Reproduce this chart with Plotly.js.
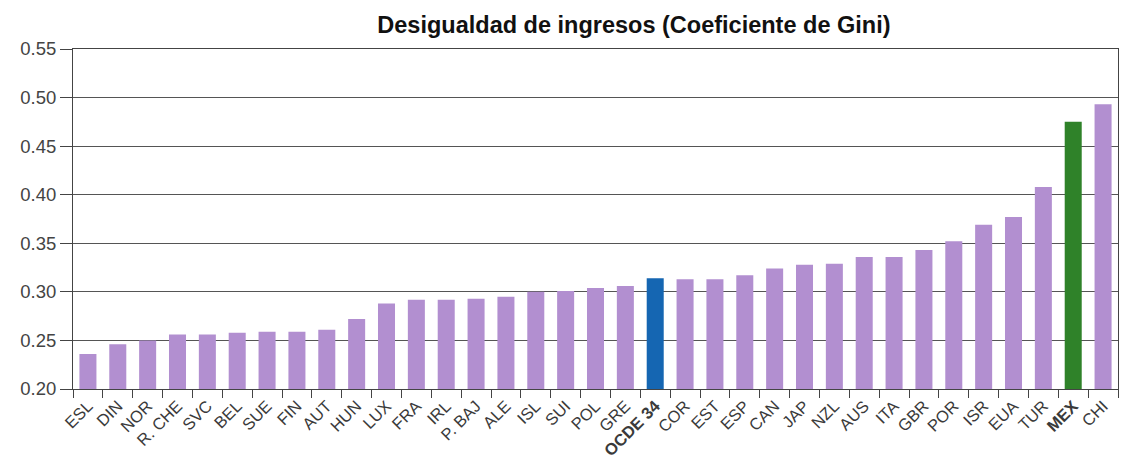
<!DOCTYPE html>
<html>
<head>
<meta charset="utf-8">
<script src="https://cdn.plot.ly/plotly-3.0.1.min.js"></script>
<style>html,body{margin:0;padding:0;background:#fff;}#chart{width:1122px;height:465px;}</style>
</head>
<body>
<div id="chart"></div>
<script>
const categories = ["ESL","DIN","NOR","R. CHE","SVC","BEL","SUE","FIN","AUT","HUN","LUX","FRA","IRL","P. BAJ","ALE","ISL","SUI","POL","GRE","OCDE 34","COR","EST","ESP","CAN","JAP","NZL","AUS","ITA","GBR","POR","ISR","EUA","TUR","MEX","CHI"];
const giniValues = [0.236,0.246,0.250,0.256,0.256,0.258,0.259,0.259,0.261,0.272,0.288,0.292,0.292,0.293,0.295,0.300,0.301,0.304,0.306,0.314,0.313,0.313,0.317,0.324,0.328,0.329,0.336,0.336,0.343,0.352,0.369,0.377,0.408,0.475,0.493];
const highlightLabels = ["OCDE 34","MEX"];
const yTickValues = [0.20,0.25,0.30,0.35,0.40,0.45,0.50,0.55];

const colorFor = c => c === "OCDE 34" ? "#1566B2" : (c === "MEX" ? "#2F8229" : "#B28FD0");
const tickText = categories.map(c => highlightLabels.includes(c) ? "<b>" + c + "</b>" : c);

const trace = {
  type: "bar",
  x: categories,
  y: giniValues,
  base: 0,
  marker: {color: categories.map(colorFor), line: {width: 0}},
  hoverinfo: "x+y"
};

const layout = {
  width: 1122, height: 465,
  margin: {l: 73, r: 4, t: 49, b: 76},
  paper_bgcolor: "#fff", plot_bgcolor: "#fff",
  bargap: 0.43,
  showlegend: false,
  title: {
    text: "<b>Desigualdad de ingresos (Coeficiente de Gini)</b>",
    font: {family: "Liberation Sans, Arial, sans-serif", size: 23.5, color: "#111"},
    xref: "container", x: 0.565, xanchor: "center",
    yref: "container", y: 0.946, yanchor: "middle"
  },
  xaxis: {
    type: "category",
    range: [-0.5, 34.5],
    tickmode: "array",
    tickvals: categories,
    ticktext: tickText,
    tickangle: -45,
    tickson: "boundaries",
    ticks: "outside", ticklen: 8, tickcolor: "#444", tickwidth: 1,
    tickfont: {family: "Liberation Sans, Arial, sans-serif", size: 16.5, color: "#3a3a3a"},
    showline: true, linecolor: "#444", linewidth: 1, mirror: true,
    showgrid: false, zeroline: false
  },
  yaxis: {
    range: [0.20, 0.55],
    tickmode: "array",
    tickvals: yTickValues,
    tickformat: ".2f",
    ticks: "outside", ticklen: 12, tickcolor: "#444", tickwidth: 1,
    tickfont: {family: "Liberation Sans, Arial, sans-serif", size: 18.5, color: "#444"},
    showline: true, linecolor: "#444", linewidth: 1, mirror: true,
    showgrid: true, gridcolor: "#555", gridwidth: 1,
    zeroline: false
  }
};

Plotly.newPlot("chart", [trace], layout, {displayModeBar: false, staticPlot: true});
</script>
</body>
</html>
